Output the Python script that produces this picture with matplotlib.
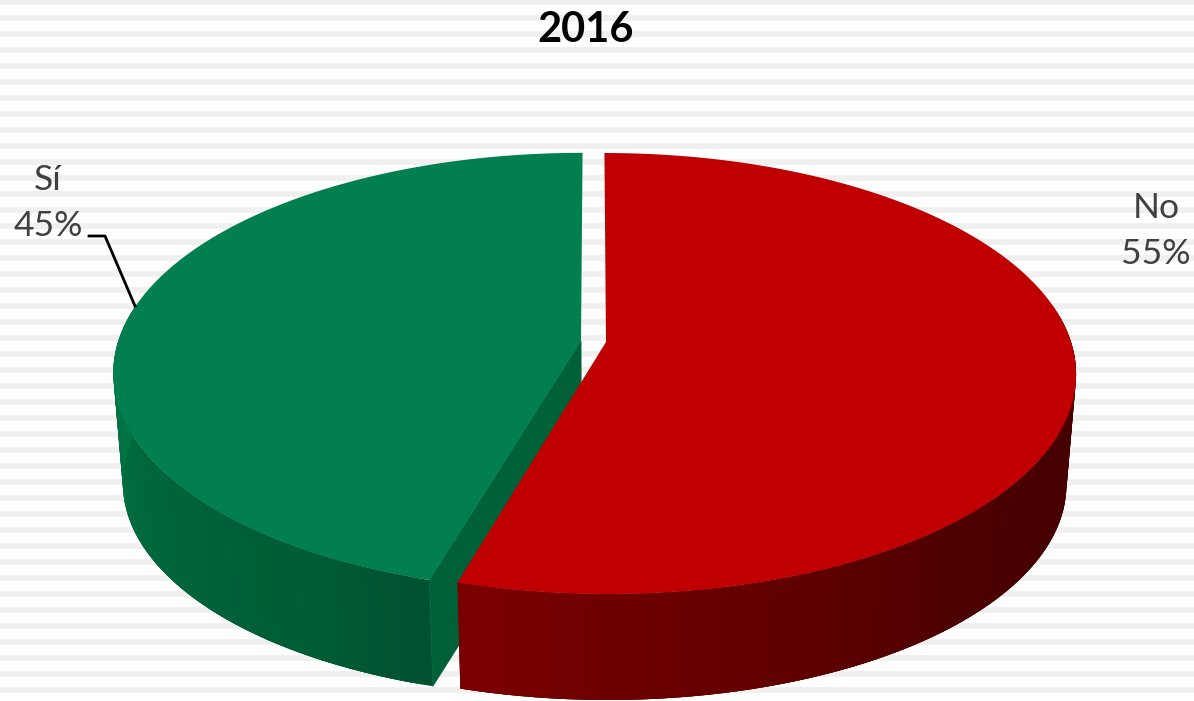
import numpy as np
import matplotlib
matplotlib.use('Agg')
import matplotlib.pyplot as plt

categories = ['No', 'Sí']
shares = [54.5, 45.5]          # read from the slice edges
pct_labels = ['55%', '45%']
title = '2016'

top_colors = ['#C00000', '#027F4F']
# wall shades, from the front edge of the slice going round to its far side
wall_shades = [['#7A0000', '#6C0000', '#5E0000', '#4E0000', '#470000', '#470000', '#470000'],
               ['#00512F', '#005C35', '#006038', '#00663A', '#006D3E', '#007342', '#007342']]
cut_color = '#006038'

W, H = 1194, 701
fig = plt.figure(figsize=(W/100, H/100), dpi=100)
ax = fig.add_axes([0, 0, 1, 1])
ax.set_xlim(0, W)
ax.set_ylim(H, 0)
ax.axis('off')

# background stripes
for y in range(-1, H, 16):
    ax.axhspan(y, y+6, color='#F0F0F0', lw=0, zorder=0)

# projection of the pie: circle in a plane seen in perspective
cx, k = 593.5, 0.1429
A, B = 465, 216
top_y, low_y, low_s = 342, 453, 0.98
shift = [12.5, -12.5]
radius = [1, 0.995]
lift = [0, -1]


def proj(ang, r, dx, y0, s):
    # ang in degrees clockwise from 12 o'clock
    a = np.radians(ang)
    u = r*np.sin(a)
    v = r*np.cos(a)
    w = 1 + k*v
    return cx + s*(A*u + dx)/w, y0 - s*B*v/w


end_no = shares[0]/100*360
ranges = [(0, end_no), (end_no, 360)]


def wall(a0, a1, i_s, shades):
    # overlapping steps, each one painted over the one before, so no seams show
    edges = np.linspace(a0, a1, 70)
    ramp = np.array([matplotlib.colors.to_rgb(c) for c in shades])
    t = np.linspace(0, 1, len(shades))
    pos = np.linspace(0, 1, len(edges)-1)
    for i in range(len(edges)-1):
        rgb = [np.interp(pos[i], t, ramp[:, j]) for j in range(3)]
        part = edges[i:i+4]
        xa, ya = proj(part, radius[i_s], shift[i_s], top_y+lift[i_s], 1)
        xb, yb = proj(part, radius[i_s], shift[i_s], low_y+lift[i_s], low_s)
        ax.fill(np.r_[xa, xb[::-1]], np.r_[ya, yb[::-1]], color=rgb, lw=0, zorder=2)


# green slice
r1 = radius[1]
y1 = top_y+lift[1]
y2 = low_y+lift[1]
xa, ya = proj(np.array([ranges[1][0]]), np.array([0, r1]), shift[1], y1, 1)
xb, yb = proj(np.array([ranges[1][0]]), np.array([0, r1]), shift[1], y2, low_s)
wall(ranges[1][0], 280, 1, wall_shades[1])
ax.fill(np.r_[xa, xb[::-1]], np.r_[ya, yb[::-1]], color=cut_color, lw=0.6, zorder=2)
ang = np.linspace(ranges[1][0], ranges[1][1], 300)
x, y = proj(ang, r1, shift[1], y1, 1)
x0, y0 = proj(0.0, 0, shift[1], y1, 1)
ax.fill(np.r_[x0, x], np.r_[y0, y], color=top_colors[1], lw=0, zorder=3)

# red slice, in front of the green one
wall(80, ranges[0][1], 0, wall_shades[0][::-1])
ang = np.linspace(ranges[0][0], ranges[0][1], 300)
x, y = proj(ang, radius[0], shift[0], top_y, 1)
x0, y0 = proj(0.0, 0, shift[0], top_y, 1)
ax.fill(np.r_[x0, x], np.r_[y0, y], color=top_colors[0], lw=0, zorder=4)

ax.text(586, 30, title, fontsize=30, fontweight='bold', family='Lato', color='black',
        ha='center', va='center', zorder=5)
ax.text(1156, 231, categories[0]+'\n'+pct_labels[0], fontsize=25.5, family='Lato', color='#404040',
        ha='center', va='center', linespacing=1.5, zorder=5)
ax.text(48, 203, categories[1]+'\n'+pct_labels[1], fontsize=25.5, family='Lato', color='#404040',
        ha='center', va='center', linespacing=1.5, zorder=5)
ax.plot([89, 105, 135], [236, 236, 306], color='black', lw=2, zorder=5)

fig.savefig('out.png', dpi=100)
